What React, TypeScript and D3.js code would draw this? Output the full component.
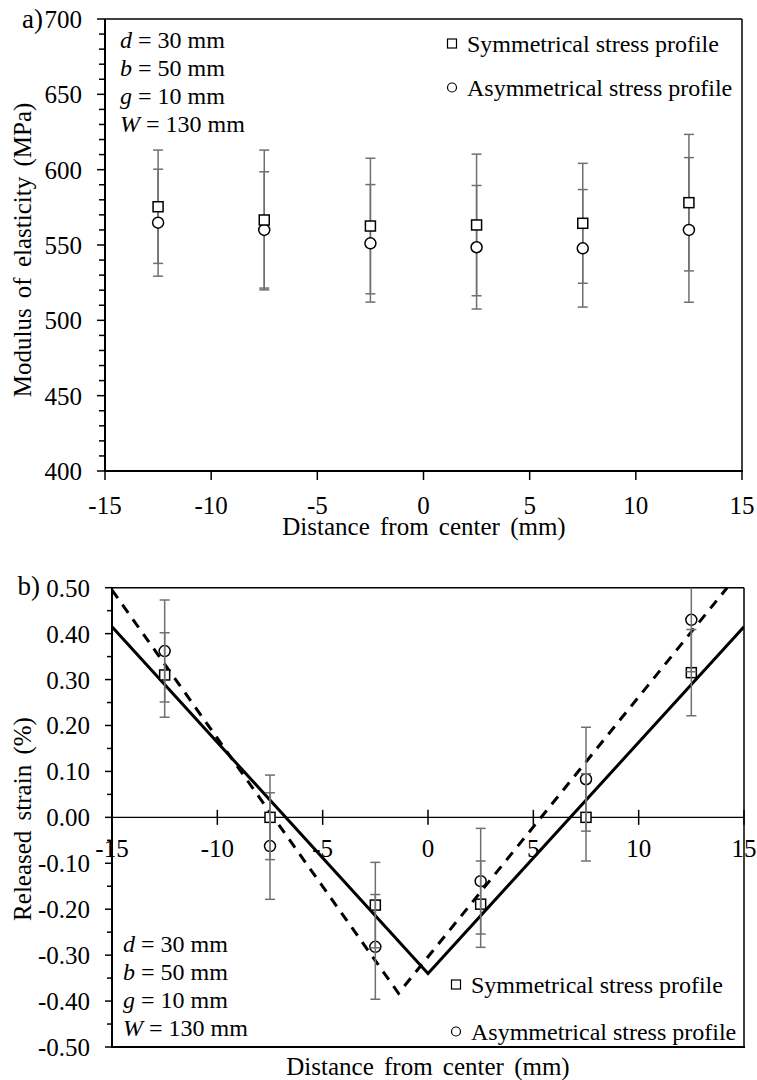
import React from "react";
import * as d3 from "d3";

// ---------- data ----------
const positions = [-12.5, -7.5, -2.5, 2.5, 7.5, 12.5];

const modulusSym = [575.4, 566.6, 562.6, 563.3, 564.4, 578.1];
const modulusSymErr = [37.6, 46.4, 45, 47, 39.8, 45.3];
const modulusAsym = [564.8, 560, 551.1, 548.5, 547.8, 560];
const modulusAsymErr = [35.5, 38.6, 39, 41, 39, 48];

const strainSym = [0.31, 0, -0.191, -0.189, 0, 0.315];
const strainSymErr = [0.092, 0.092, 0.093, 0.094, 0.095, 0.094];
const strainAsym = [0.362, -0.0625, -0.282, -0.139, 0.083, 0.43];
const strainAsymErr = [0.111, 0.116, 0.114, 0.115, 0.113, 0.113];

const fitSymX = [-15, 0, 15];
const fitSymY = [0.415, -0.34, 0.415];
const fitAsymX = [-15, -1.4, 14.2];
const fitAsymY = [0.495, -0.383, 0.5];

const xTicks = [-15, -10, -5, 0, 5, 10, 15];
const modTicks = [400, 450, 500, 550, 600, 650, 700];
const strainTicks = [-0.5, -0.4, -0.3, -0.2, -0.1, 0, 0.1, 0.2, 0.3, 0.4, 0.5];

const legendLabels = ["Symmetrical stress profile", "Asymmetrical stress profile"];
const params = [
  ["d", " = 30 mm"],
  ["b", " = 50 mm"],
  ["g", " = 10 mm"],
  ["W", " = 130 mm"],
];

const FONT = "Liberation Serif, Tinos, DejaVu Serif, serif";
const ERR = "#707070";

function Square({ x, y, s = 10, fill = "white", sw = 1.5 }: any) {
  return <rect x={x - s / 2} y={y - s / 2} width={s} height={s} fill={fill} stroke="#000" strokeWidth={sw} />;
}
function Circ({ x, y, r = 5.5, fill = "white", sw = 1.5 }: any) {
  return <circle cx={x} cy={y} r={r} fill={fill} stroke="#000" strokeWidth={sw} />;
}

function ErrBar({ x, y0, y1, cap = 5 }: any) {
  return (
    <g stroke={ERR} strokeWidth={1.5}>
      <line x1={x} x2={x} y1={y0} y2={y1} />
      <line x1={x - cap} x2={x + cap} y1={y0} y2={y0} />
      <line x1={x - cap} x2={x + cap} y1={y1} y2={y1} />
    </g>
  );
}

function Params({ x, y0, dy }: any) {
  return (
    <g style={{ fontFamily: FONT, fontSize: "24px" }}>
      {params.map((p, i) => (
        <text key={i} x={x} y={y0 + i * dy}>
          <tspan fontStyle="italic">{p[0]}</tspan>
          <tspan>{p[1]}</tspan>
        </text>
      ))}
    </g>
  );
}

function Legend({ x, y0, dy }: any) {
  return (
    <g style={{ fontFamily: FONT, fontSize: "24px" }}>
      <Square x={x} y={y0 - 8.5} s={9} sw={1.2} />
      <text x={x + 15} y={y0}>{legendLabels[0]}</text>
      <Circ x={x} y={y0 + dy - 8.5} r={4.5} sw={1.2} />
      <text x={x + 15} y={y0 + dy}>{legendLabels[1]}</text>
    </g>
  );
}

function TopChart() {
  const x = d3.scaleLinear().domain([-15, 15]).range([105, 742]);
  const y = d3.scaleLinear().domain([400, 700]).range([471, 19]);
  const minor = d3.range(400, 701, 10).filter((v) => v % 50 !== 0);
  return (
    <g>
      <line x1={x(-15)} x2={x(15)} y1={y(700)} y2={y(700)} stroke="#000" strokeWidth={1.5} />
      <line x1={x(15)} x2={x(15)} y1={y(700)} y2={y(400)} stroke="#000" strokeWidth={1.5} />
      <line x1={x(-15)} x2={x(-15)} y1={y(700)} y2={y(400) + 1} stroke="#000" strokeWidth={2} />
      <line x1={x(-15) - 1} x2={x(15) + 1} y1={y(400)} y2={y(400)} stroke="#000" strokeWidth={2} />
      {modTicks.map((t) => (
        <line key={"m" + t} x1={x(-15) - 8} x2={x(-15)} y1={y(t)} y2={y(t)} stroke="#000" strokeWidth={1.5} />
      ))}
      {minor.map((t) => (
        <line key={"n" + t} x1={x(-15) - 6} x2={x(-15)} y1={y(t)} y2={y(t)} stroke="#000" strokeWidth={1.5} />
      ))}
      {xTicks.map((t) => (
        <line key={"x" + t} x1={x(t)} x2={x(t)} y1={y(400)} y2={y(400) + 9} stroke="#000" strokeWidth={1.5} />
      ))}
      <g style={{ fontFamily: FONT, fontSize: "25px" }}>
        {modTicks.map((t) => (
          <text key={"l" + t} x={82} y={y(t) + 9} textAnchor="end">{t}</text>
        ))}
        {xTicks.map((t) => (
          <text key={"xl" + t} x={x(t)} y={514} textAnchor="middle">{t}</text>
        ))}
        <text x={424} y={535} textAnchor="middle" style={{ wordSpacing: "4px" }}>Distance from center (mm)</text>
        <text transform={`translate(31,250) rotate(-90)`} textAnchor="middle" style={{ wordSpacing: "4px" }}>Modulus of elasticity (MPa)</text>
      </g>
      <text x={43} y={28} textAnchor="end" style={{ fontFamily: FONT, fontSize: "27px" }}>a)</text>
      {positions.map((p, i) => (
        <g key={"e" + i}>
          <ErrBar x={x(p)} y0={y(modulusSym[i] + modulusSymErr[i])} y1={y(modulusSym[i] - modulusSymErr[i])} />
          <ErrBar x={x(p)} y0={y(modulusAsym[i] + modulusAsymErr[i])} y1={y(modulusAsym[i] - modulusAsymErr[i])} />
        </g>
      ))}
      {positions.map((p, i) => (
        <g key={"p" + i}>
          <Circ x={x(p)} y={y(modulusAsym[i])} />
          <Square x={x(p)} y={y(modulusSym[i])} />
        </g>
      ))}
      <Params x={120} y0={48.3} dy={27.8} />
      <Legend x={452} y0={52} dy={44} />
    </g>
  );
}

function BottomChart() {
  const x = d3.scaleLinear().domain([-15, 15]).range([112, 744]);
  const y = d3.scaleLinear().domain([-0.5, 0.5]).range([1047, 587.7]);
  const minor = d3.range(-0.45, 0.5, 0.1);
  const line = d3
    .line<number>()
    .x((d: any) => x(d[0]))
    .y((d: any) => y(d[1]));
  const symPts: any = fitSymX.map((v, i) => [v, fitSymY[i]]);
  const asymPts: any = fitAsymX.map((v, i) => [v, fitAsymY[i]]);
  return (
    <g>
      <defs>
        <clipPath id="clipB">
          <rect x={x(-15)} y={y(0.5)} width={x(15) - x(-15)} height={y(-0.5) - y(0.5)} />
        </clipPath>
      </defs>
      <line x1={x(-15)} x2={x(15)} y1={y(0.5)} y2={y(0.5)} stroke="#000" strokeWidth={1.5} />
      <line x1={x(15)} x2={x(15)} y1={y(0.5)} y2={y(-0.5)} stroke="#000" strokeWidth={1.5} />
      <line x1={x(-15)} x2={x(-15)} y1={y(0.5)} y2={y(-0.5) + 1} stroke="#000" strokeWidth={2} />
      <line x1={x(-15) - 1} x2={x(15) + 1} y1={y(-0.5)} y2={y(-0.5)} stroke="#000" strokeWidth={2} />
      <line x1={x(-15)} x2={x(15)} y1={y(0)} y2={y(0)} stroke="#000" strokeWidth={1.3} />
      {xTicks.map((t) => (
        <line key={"x" + t} x1={x(t)} x2={x(t)} y1={y(0) - 7.5} y2={y(0) + 7.5} stroke="#000" strokeWidth={1.5} />
      ))}
      {strainTicks.map((t) => (
        <line key={"m" + t} x1={x(-15) - 7} x2={x(-15)} y1={y(t)} y2={y(t)} stroke="#000" strokeWidth={1.5} />
      ))}
      {minor.map((t, i) => (
        <line key={"n" + i} x1={x(-15) - 5} x2={x(-15)} y1={y(t)} y2={y(t)} stroke="#000" strokeWidth={1.5} />
      ))}
      <g style={{ fontFamily: FONT, fontSize: "25px" }}>
        {strainTicks.map((t) => (
          <text key={"l" + t} x={90} y={y(t) + 9} textAnchor="end">{t.toFixed(2)}</text>
        ))}
        {xTicks.map((t) => (
          <text key={"xl" + t} x={x(t)} y={857} textAnchor="middle">{t}</text>
        ))}
        <text x={428} y={1075} textAnchor="middle" style={{ wordSpacing: "4px" }}>Distance from center (mm)</text>
        <text transform={`translate(31,819) rotate(-90)`} textAnchor="middle" style={{ wordSpacing: "4px" }}>Released strain (%)</text>
      </g>
      <text x={40} y={595} textAnchor="end" style={{ fontFamily: FONT, fontSize: "27px" }}>b)</text>
      <g clipPath="url(#clipB)">
        <path d={line(symPts) as string} fill="none" stroke="#000" strokeWidth={3} />
        <path d={line(asymPts) as string} fill="none" stroke="#000" strokeWidth={3} strokeDasharray="10,8" />
        {positions.map((p, i) => (
          <g key={"p" + i}>
            <Circ x={x(p)} y={y(strainAsym[i])} />
            <Square x={x(p)} y={y(strainSym[i])} />
          </g>
        ))}
        {positions.map((p, i) => (
          <g key={"e" + i}>
            <ErrBar x={x(p)} y0={y(strainSym[i] + strainSymErr[i])} y1={y(strainSym[i] - strainSymErr[i])} />
            <ErrBar x={x(p)} y0={y(strainAsym[i] + strainAsymErr[i])} y1={y(strainAsym[i] - strainAsymErr[i])} />
          </g>
        ))}
      </g>
      <Params x={123} y0={951.7} dy={28} />
      <Legend x={456} y0={993} dy={47} />
    </g>
  );
}

export default function App() {
  return (
    <svg
      width={757}
      height={1080}
      viewBox="0 0 757 1080"
      style={{ position: "absolute", left: 0, top: 0, background: "white" }}
    >
      <rect width={757} height={1080} fill="white" />
      <TopChart />
      <BottomChart />
    </svg>
  );
}
